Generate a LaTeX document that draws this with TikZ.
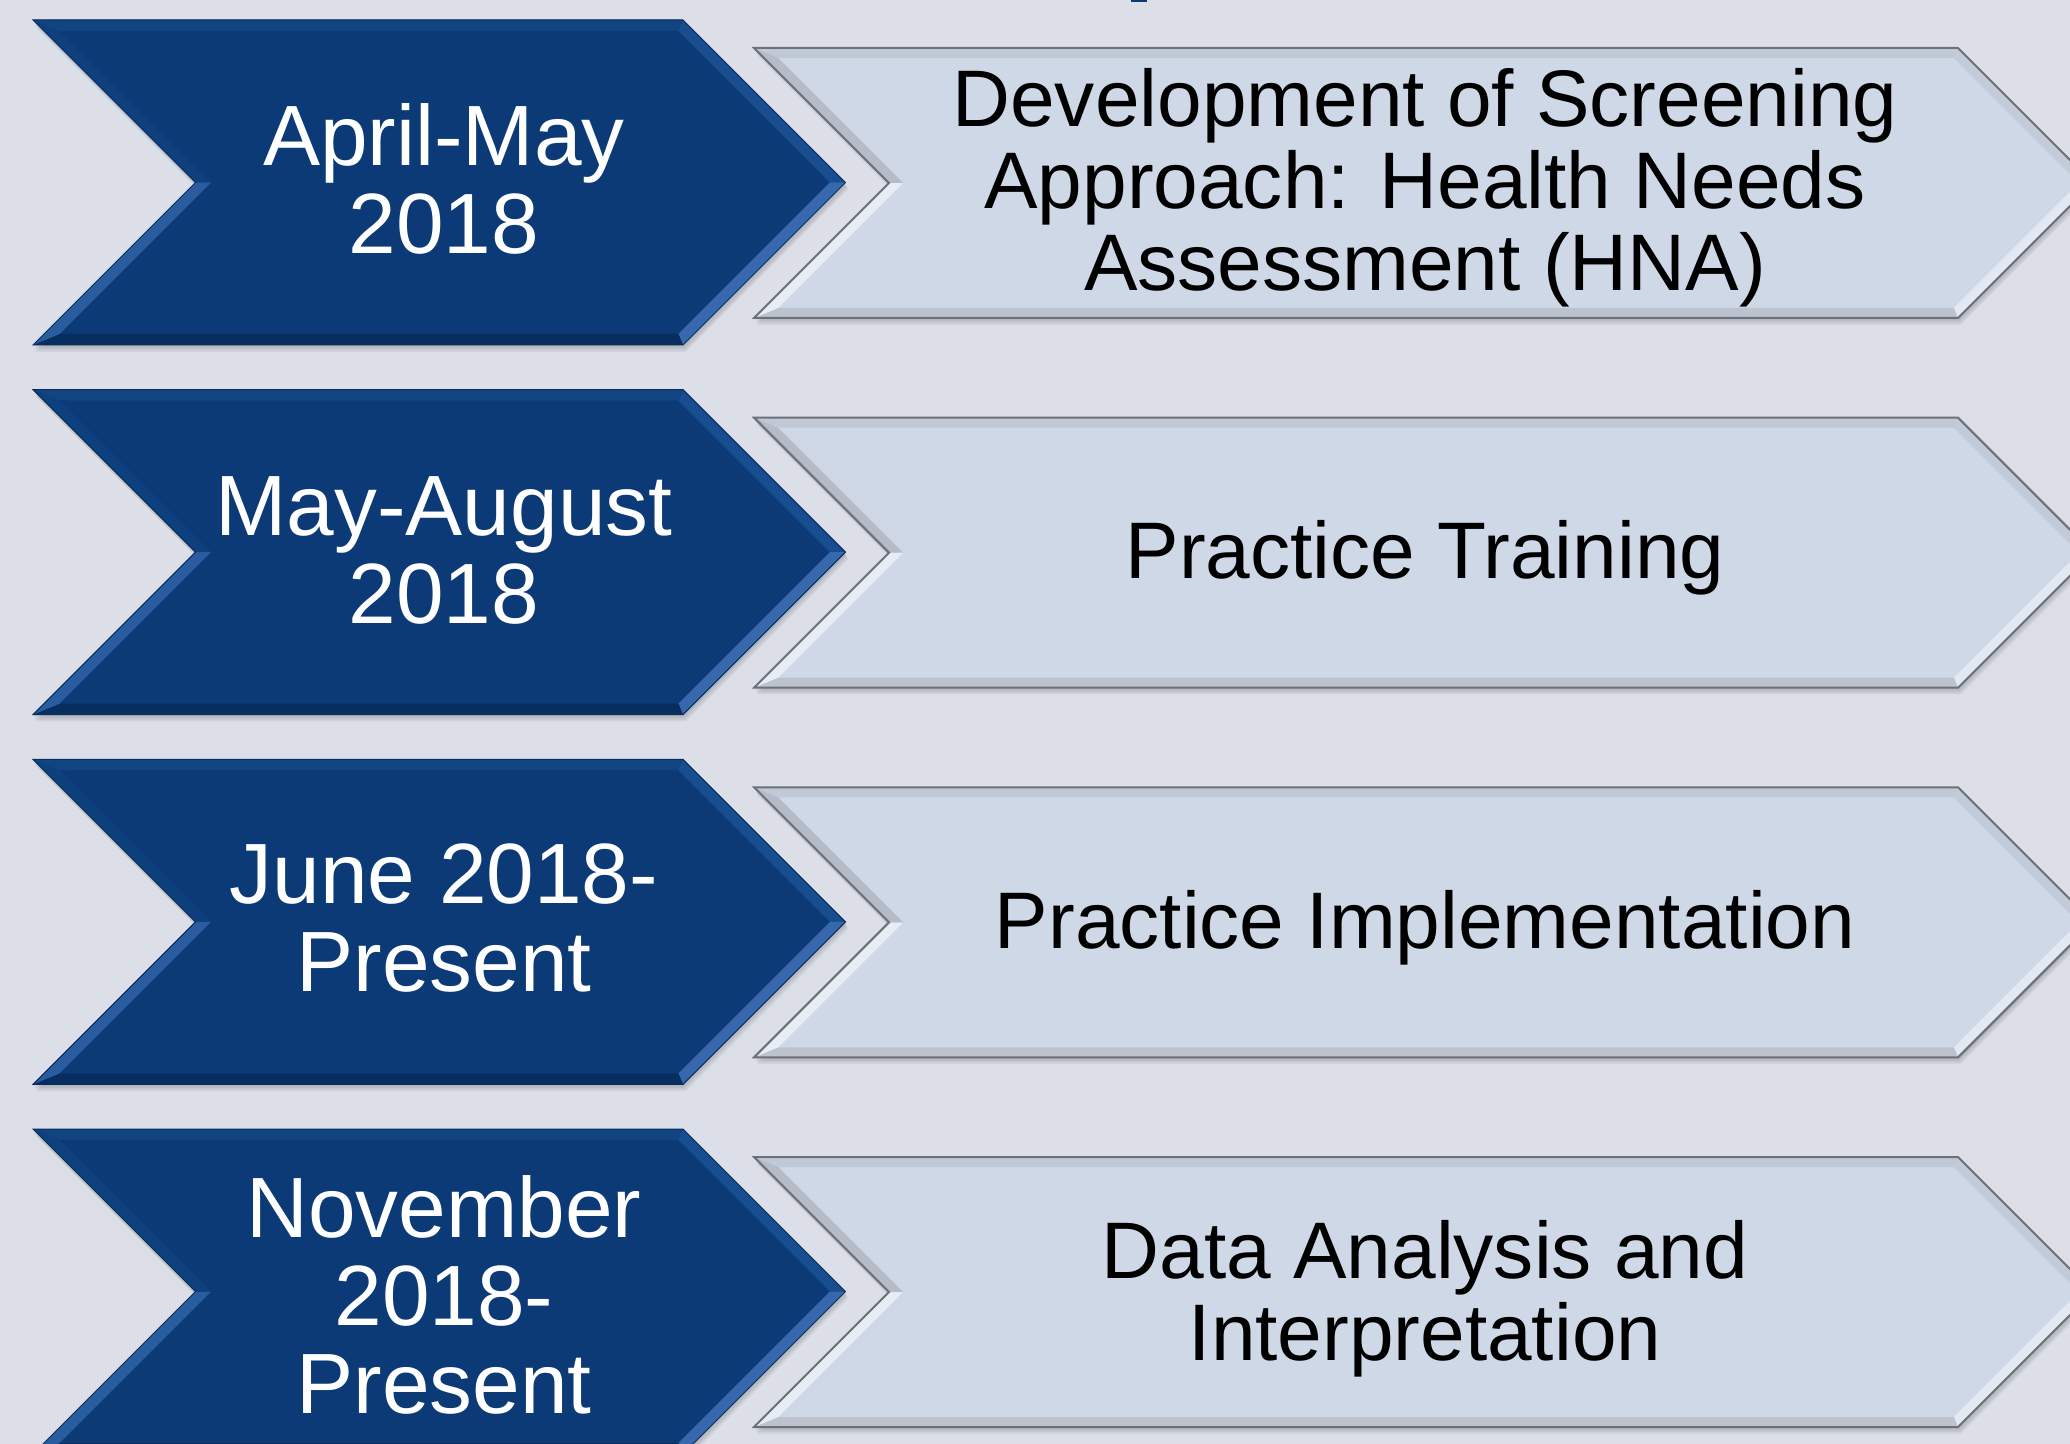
\documentclass[tikz,border=0pt]{standalone}
\usepackage{fontspec}
\setmainfont{Liberation Sans}
\definecolor{bgc}{HTML}{DCDFE8}
\definecolor{dkmain}{HTML}{0B3A76}
\definecolor{dktop}{HTML}{114481}
\definecolor{dkur}{HTML}{184D90}
\definecolor{dklr}{HTML}{3768AD}
\definecolor{dkbot}{HTML}{082E60}
\definecolor{dkll}{HTML}{2A5CA0}
\definecolor{dkul}{HTML}{0F407E}
\definecolor{dkline}{HTML}{092D5C}
\definecolor{ltmain}{HTML}{CED8E6}
\definecolor{lttop}{HTML}{C1C9D6}
\definecolor{ltur}{HTML}{C3CBD8}
\definecolor{ltlr}{HTML}{E3E9F2}
\definecolor{ltbot}{HTML}{BCC3CF}
\definecolor{ltll}{HTML}{E7EDF5}
\definecolor{ltul}{HTML}{B5BCC7}
\definecolor{ltline}{HTML}{6C7078}
\tikzset{
  dmain/.style={fill=dkmain}, dtop/.style={fill=dktop}, dur/.style={fill=dkur},
  dlr/.style={fill=dklr}, dbot/.style={fill=dkbot}, dll/.style={fill=dkll},
  dul/.style={fill=dkul}, dline/.style={draw=dkline, line width=0.5pt},
  lmain/.style={fill=ltmain}, ltop/.style={fill=lttop}, lur/.style={fill=ltur},
  llr/.style={fill=ltlr}, lbot/.style={fill=ltbot}, lll/.style={fill=ltll},
  lul/.style={fill=ltul}, lline/.style={draw=ltline, line width=1pt},
  dtext/.style={text=white, align=center, inner sep=0pt, font=\fontsize{42.8}{44}\selectfont},
  ltext/.style={text=black, align=center, inner sep=0pt, font=\fontsize{40.1}{41}\selectfont}
}
\newcommand{\drawchev}[6]{%
  \pgfmathsetmacro\chXa{#1}\pgfmathsetmacro\chXb{#2}%
  \pgfmathsetmacro\chT{#3}\pgfmathsetmacro\chB{#4}\pgfmathsetmacro\chW{#5}%
  \pgfmathsetmacro\chM{(\chT+\chB)/2}\pgfmathsetmacro\chH{(\chB-\chT)/2}%
  \pgfmathsetmacro\chS{\chW*1.41421}%
  \pgfmathsetmacro\chIl{\chXa+\chW+\chS}%
  \pgfmathsetmacro\chIn{\chXa+\chH+\chS}%
  \pgfmathsetmacro\chIr{\chXb-\chS+\chW}%
  \pgfmathsetmacro\chIt{\chXb+\chH-\chS}%
  \pgfmathsetmacro\chOt{\chXb+\chH}%
  \pgfmathsetmacro\chOn{\chXa+\chH}%
  \pgfmathsetmacro\chiT{\chT+\chW}\pgfmathsetmacro\chiB{\chB-\chW}%
  \foreach \k in {1,2,3,4}{%
    \fill[black, opacity=0.05, shift={(\k*0.7,\k*1.7)}] (\chXa,\chT) -- (\chXb,\chT) -- (\chOt,\chM) -- (\chXb,\chB) -- (\chXa,\chB) -- (\chOn,\chM) -- cycle;}
  \fill[#6main] (\chXa,\chT) -- (\chXb,\chT) -- (\chOt,\chM) -- (\chXb,\chB) -- (\chXa,\chB) -- (\chOn,\chM) -- cycle;
  \fill[#6top] (\chXa,\chT) -- (\chXb,\chT) -- (\chIr,\chiT) -- (\chIl,\chiT) -- cycle;
  \fill[#6ur] (\chXb,\chT) -- (\chOt,\chM) -- (\chIt,\chM) -- (\chIr,\chiT) -- cycle;
  \fill[#6lr] (\chOt,\chM) -- (\chXb,\chB) -- (\chIr,\chiB) -- (\chIt,\chM) -- cycle;
  \fill[#6bot] (\chXb,\chB) -- (\chXa,\chB) -- (\chIl,\chiB) -- (\chIr,\chiB) -- cycle;
  \fill[#6ll] (\chXa,\chB) -- (\chOn,\chM) -- (\chIn,\chM) -- (\chIl,\chiB) -- cycle;
  \fill[#6ul] (\chOn,\chM) -- (\chXa,\chT) -- (\chIl,\chiT) -- (\chIn,\chM) -- cycle;
  \draw[#6line, line join=miter] (\chXa,\chT) -- (\chXb,\chT) -- (\chOt,\chM) -- (\chXb,\chB) -- (\chXa,\chB) -- (\chOn,\chM) -- cycle;
}
\begin{document}
\begin{tikzpicture}[x=0.5pt,y=-0.5pt]
\clip (0,0) rectangle (2070,1444);
\fill[bgc] (0,0) rectangle (2070,1444);
\fill[dkmain] (1131,0) rectangle (1147,2.5);
\foreach \r in {0,1,2,3}{
  \begin{scope}[shift={(0,\r*369.67)}]
    \drawchev{33}{683}{20}{345}{11}{d}
    \drawchev{754}{1958}{48}{318}{10}{l}
  \end{scope}
}
\node[dtext] (d1) at (444,178.5) {April-May\\2018};
\node[dtext] (d2) at (444,550.5) {May-August\\2018};
\node[dtext] (d3) at (444,918.5) {June 2018-\\Present};
\node[dtext] (d4) at (444,1294.5) {November\\2018-\\Present};
\node[ltext] (t1) at (1425,187.5) {Development of Screening\\Approach: Health Needs\\Assessment (HNA)};
\node[ltext] (t2) at (1425,558) {Practice Training};
\node[ltext] (t3) at (1425,927.7) {Practice Implementation};
\node[ltext] (t4) at (1425,1298.5) {Data Analysis and\\Interpretation};
\end{tikzpicture}
\end{document}
